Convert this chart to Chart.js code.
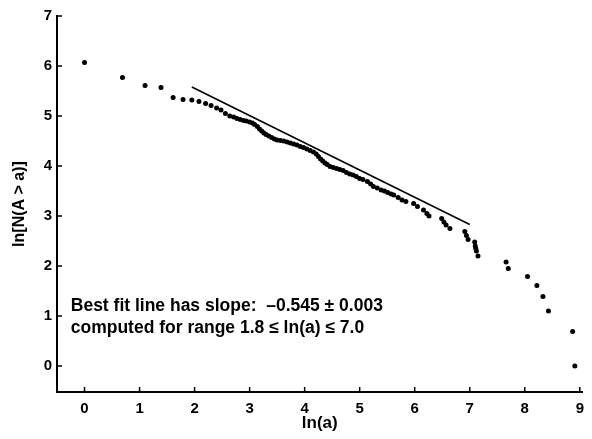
<!DOCTYPE html>
<html>
<head>
<meta charset="utf-8">
<script src="https://cdn.jsdelivr.net/npm/chart.js@4/dist/chart.umd.min.js"></script>
<style>
html,body{margin:0;padding:0;background:#fff;}
#wrap{width:592px;height:439px;position:relative;}
</style>
</head>
<body>
<div id="wrap"><canvas id="c" width="592" height="439"></canvas></div>
<script>
// ln(a) values of the observed points
const lnA = [0.00,0.69,1.10,1.39,1.61,1.79,1.95,2.08,2.20,2.30,2.40,2.48,2.56,2.64,2.71,2.77,2.83,2.89,2.94,3.00,3.05,3.09,3.14,3.18,3.22,3.26,3.30,3.35,3.40,3.45,3.50,3.56,3.62,3.68,3.74,3.80,3.86,3.92,3.98,4.04,4.10,4.16,4.21,4.25,4.29,4.33,4.37,4.41,4.46,4.52,4.58,4.64,4.70,4.76,4.82,4.88,4.94,5.00,5.06,5.14,5.20,5.25,5.32,5.39,5.45,5.51,5.57,5.62,5.70,5.77,5.84,5.98,6.05,6.16,6.22,6.26,6.49,6.53,6.57,6.64,6.91,6.94,6.97,7.09,7.10,7.11,7.12,7.15,7.66,7.70,8.05,8.22,8.33,8.43,8.87,8.91];
// ln[N(A > a)] values of the observed points
const lnN = [6.07,5.77,5.61,5.57,5.37,5.33,5.32,5.29,5.25,5.21,5.16,5.12,5.05,5.00,4.98,4.95,4.93,4.91,4.90,4.88,4.86,4.83,4.79,4.74,4.70,4.66,4.63,4.60,4.57,4.54,4.52,4.51,4.50,4.48,4.46,4.44,4.42,4.39,4.37,4.34,4.31,4.28,4.24,4.19,4.14,4.10,4.06,4.03,3.99,3.97,3.95,3.93,3.91,3.87,3.84,3.82,3.79,3.75,3.73,3.69,3.64,3.59,3.56,3.52,3.50,3.47,3.44,3.42,3.37,3.32,3.29,3.25,3.19,3.12,3.05,3.00,2.95,2.88,2.82,2.75,2.69,2.61,2.53,2.48,2.40,2.35,2.30,2.20,2.08,1.95,1.79,1.61,1.39,1.10,0.69,0.00];
// best-fit line end points
const fitX = [1.95, 7.0];
const fitY = [5.58, 2.83];
// tick labels
const xTicks = [0,1,2,3,4,5,6,7,8,9];
const yTicks = [0,1,2,3,4,5,6,7];
const noteLines = ["Best fit line has slope:  \u20130.545 \u00b1 0.003", "computed for range 1.8 \u2264 ln(a) \u2264 7.0"];
const noteAt = {x: -0.25, y: [1.2, 0.76]};

const FONT = '"Liberation Sans", Arial, Helvetica, sans-serif';

const pts = lnA.map((x,i)=>({x:x, y:lnN[i]}));
const fit = fitX.map((x,i)=>({x:x, y:fitY[i]}));

const inwardTicks = {
  id:'inwardTicks',
  afterDraw(chart){
    const {ctx, scales:{x, y}, chartArea:a} = chart;
    ctx.save();
    ctx.strokeStyle = '#000';
    ctx.lineWidth = 1.5;
    ctx.beginPath();
    xTicks.forEach(v=>{const px = x.getPixelForValue(v); ctx.moveTo(px, a.bottom); ctx.lineTo(px, a.bottom-5);});
    yTicks.forEach(v=>{const py = y.getPixelForValue(v); ctx.moveTo(a.left, py); ctx.lineTo(a.left+5, py);});
    ctx.stroke();
    ctx.fillStyle = '#000';
    ctx.font = 'bold 17.5px ' + FONT;
    ctx.textBaseline = 'middle';
    ctx.textAlign = 'left';
    noteLines.forEach((t,i)=>{
      ctx.fillText(t, x.getPixelForValue(noteAt.x), y.getPixelForValue(noteAt.y[i]));
    });
    ctx.restore();
  }
};

new Chart(document.getElementById('c'), {
  type:'scatter',
  data:{
    datasets:[
      {data:pts, pointRadius:2.5, pointBackgroundColor:'#000', pointBorderWidth:0, showLine:false},
      {type:'line', data:fit, borderColor:'#000', borderWidth:1.6, pointRadius:0, fill:false}
    ]
  },
  options:{
    responsive:false,
    animation:false,
    devicePixelRatio:1,
    layout:{padding:{top:16, right:4, left:0, bottom:0}},
    plugins:{legend:{display:false}, tooltip:{enabled:false}},
    scales:{
      x:{
        type:'linear', min:-0.5, max:9.05,
        afterBuildTicks(s){ s.ticks = xTicks.map(v=>({value:v})); },
        afterFit(s){ s.height = 47; },
        grid:{display:true, drawOnChartArea:false, drawTicks:false},
        border:{display:true, color:'#000', width:2},
        ticks:{color:'#000', padding:8, font:{family:FONT, size:15, weight:'bold'}, maxRotation:0},
        title:{display:true, text:'ln(a)', color:'#000', font:{family:FONT, size:17, weight:'bold'}, padding:{top:0, bottom:5}}
      },
      y:{
        type:'linear', min:-0.52, max:7.0,
        afterBuildTicks(s){ s.ticks = yTicks.map(v=>({value:v})); },
        afterFit(s){ s.width = 57; },
        grid:{display:true, drawOnChartArea:false, drawTicks:false},
        border:{display:true, color:'#000', width:2},
        ticks:{color:'#000', padding:5, font:{family:FONT, size:15, weight:'bold'}},
        title:{display:true, text:'ln[N(A > a)]', color:'#000', font:{family:FONT, size:16, weight:'bold'}, padding:{top:10, bottom:0}}
      }
    }
  },
  plugins:[inwardTicks]
});
</script>
</body>
</html>
